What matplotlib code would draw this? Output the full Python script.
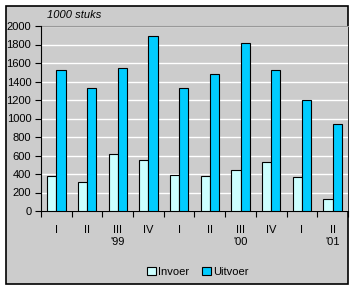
import numpy as np
import matplotlib.pyplot as plt
from matplotlib.patches import Rectangle

plt.rcParams['font.family'] = ['Liberation Sans', 'DejaVu Sans']

# data
kwartalen = ['I', 'II', 'III', 'IV', 'I', 'II', 'III', 'IV', 'I', 'II']
jaren = ["'99", "'00", "'01"]
jaar_pos = [2, 6, 9]  # kwartaal waaronder het jaar staat
invoer = [375, 313, 616, 551, 389, 375, 443, 526, 364, 130]
uitvoer = [1521, 1326, 1543, 1889, 1326, 1478, 1813, 1521, 1197, 937]

fs = 8

fig = plt.figure(figsize=(3.55, 2.9), dpi=100)
fig.patch.set_facecolor('white')
# grijze achtergrond met zwarte rand (achter de assen)
fig.patches.append(Rectangle((6 / 355, 1 - 284 / 290), 342 / 355, 278 / 290,
                             transform=fig.transFigure, facecolor='#cccccc',
                             edgecolor='black', linewidth=1.2, zorder=-1))

ax = fig.add_axes([41 / 355, 1 - 211 / 290, 307 / 355, 185 / 290])
ax.set_facecolor('#cccccc')

x = np.arange(len(kwartalen)) + 0.5
w = 0.3
ax.bar(x - w / 2, invoer, w, color='#ccffff', edgecolor='black', linewidth=0.8,
       label='Invoer', zorder=3)
ax.bar(x + w / 2, uitvoer, w, color='#00ccff', edgecolor='black', linewidth=0.8,
       label='Uitvoer', zorder=3)

ax.set_xlim(0, len(kwartalen))
ax.set_ylim(0, 2000)
ax.set_yticks(np.arange(0, 2001, 200))
ax.yaxis.grid(True, color='white', linewidth=1, zorder=1)
ax.tick_params(axis='y', labelsize=fs, length=4, pad=3)

# tickstreepjes tussen de kwartalen, labels in het midden
ax.set_xticks(np.arange(0, len(kwartalen) + 1))
ax.set_xticklabels([])
ax.set_xticks(x, minor=True)
ax.set_xticklabels(kwartalen, minor=True, fontsize=fs)
ax.tick_params(axis='x', which='major', length=4, direction='out')
ax.tick_params(axis='x', which='minor', length=0, pad=10)
for pos, jaar in zip(jaar_pos, jaren):
    ax.text(pos + 0.5, -0.165, jaar, transform=ax.get_xaxis_transform(),
            ha='center', va='center', fontsize=fs)

ax.spines['right'].set_visible(False)
ax.spines['top'].set_color('#999999')
ax.spines['top'].set_zorder(2)

ax.text(0.02, 1.06, '1000 stuks', transform=ax.transAxes, style='italic',
        fontsize=fs, va='center')

fig.legend(loc='center', bbox_to_anchor=(198 / 355, 1 - 272 / 290), ncol=2,
           frameon=False, fontsize=fs, handlelength=0.8, handleheight=0.8,
           handletextpad=0.2, columnspacing=1.2)

fig.savefig('out.png', dpi=100)
